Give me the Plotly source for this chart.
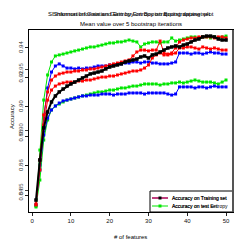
import plotly.graph_objects as go

features = list(range(1, 51))

blue_upper = [0.8336, 0.8607, 0.8925, 0.9129, 0.9237, 0.9278, 0.9292, 0.9278, 0.9264, 0.9264,
              0.9258, 0.9264, 0.9258, 0.9264, 0.9264, 0.9271, 0.9278, 0.9278, 0.9278, 0.9285,
              0.9285, 0.9292, 0.9292, 0.9298, 0.9298, 0.9305, 0.9305, 0.9298, 0.9305, 0.9305,
              0.9298, 0.9298, 0.9292, 0.9292, 0.9292, 0.9298, 0.9305, 0.9366, 0.9366, 0.9366,
              0.9359, 0.9366, 0.9366, 0.9359, 0.9366, 0.9373, 0.9366, 0.9366, 0.9359, 0.9359]
blue_lower = [0.8336, 0.8573, 0.8810, 0.8925, 0.8980, 0.9007, 0.9027, 0.9041, 0.9047, 0.9054,
              0.9061, 0.9068, 0.9075, 0.9075, 0.9081, 0.9081, 0.9081, 0.9088, 0.9088, 0.9088,
              0.9081, 0.9088, 0.9088, 0.9088, 0.9095, 0.9095, 0.9095, 0.9095, 0.9088, 0.9095,
              0.9095, 0.9095, 0.9095, 0.9095, 0.9088, 0.9081, 0.9088, 0.9136, 0.9136, 0.9136,
              0.9136, 0.9129, 0.9136, 0.9136, 0.9129, 0.9136, 0.9142, 0.9136, 0.9136, 0.9136]
green_upper = [0.8329, 0.8708, 0.9047, 0.9217, 0.9305, 0.9346, 0.9353, 0.9359, 0.9366, 0.9373,
               0.9380, 0.9386, 0.9393, 0.9400, 0.9407, 0.9407, 0.9414, 0.9420, 0.9427, 0.9434,
               0.9434, 0.9441, 0.9441, 0.9447, 0.9454, 0.9447, 0.9441, 0.9407, 0.9427, 0.9434,
               0.9441, 0.9441, 0.9434, 0.9441, 0.9441, 0.9468, 0.9447, 0.9454, 0.9461, 0.9468,
               0.9475, 0.9475, 0.9468, 0.9475, 0.9475, 0.9468, 0.9475, 0.9468, 0.9475, 0.9481]
green_lower = [0.8322, 0.8505, 0.8776, 0.8912, 0.8980, 0.9007, 0.9020, 0.9034, 0.9047, 0.9054,
               0.9061, 0.9068, 0.9075, 0.9081, 0.9088, 0.9095, 0.9102, 0.9102, 0.9108, 0.9115,
               0.9115, 0.9122, 0.9129, 0.9129, 0.9136, 0.9142, 0.9142, 0.9149, 0.9156, 0.9156,
               0.9156, 0.9156, 0.9149, 0.9156, 0.9156, 0.9163, 0.9163, 0.9169, 0.9163, 0.9169,
               0.9176, 0.9183, 0.9176, 0.9169, 0.9169, 0.9169, 0.9163, 0.9156, 0.9169, 0.9183]
red_upper = [0.8342, 0.8641, 0.8946, 0.9102, 0.9183, 0.9210, 0.9224, 0.9230, 0.9237, 0.9237,
             0.9244, 0.9244, 0.9251, 0.9251, 0.9258, 0.9258, 0.9264, 0.9271, 0.9278, 0.9285,
             0.9292, 0.9298, 0.9305, 0.9312, 0.9319, 0.9346, 0.9373, 0.9386, 0.9386, 0.9380,
             0.9386, 0.9386, 0.9447, 0.9366, 0.9359, 0.9366, 0.9400, 0.9441, 0.9454, 0.9461,
             0.9468, 0.9468, 0.9475, 0.9475, 0.9475, 0.9475, 0.9468, 0.9475, 0.9475, 0.9468]
red_lower = [0.8336, 0.8573, 0.8878, 0.9047, 0.9115, 0.9142, 0.9156, 0.9163, 0.9169, 0.9169,
             0.9169, 0.9176, 0.9176, 0.9183, 0.9183, 0.9190, 0.9197, 0.9203, 0.9203, 0.9210,
             0.9210, 0.9217, 0.9224, 0.9230, 0.9237, 0.9244, 0.9244, 0.9251, 0.9264, 0.9285,
             0.9332, 0.9353, 0.9366, 0.9353, 0.9353, 0.9359, 0.9366, 0.9400, 0.9400, 0.9407,
             0.9407, 0.9400, 0.9393, 0.9407, 0.9400, 0.9393, 0.9400, 0.9393, 0.9386, 0.9386]
black_mean = [0.8369, 0.8641, 0.8858, 0.8966, 0.9034, 0.9075, 0.9102, 0.9122, 0.9142, 0.9156,
              0.9169, 0.9183, 0.9197, 0.9210, 0.9224, 0.9230, 0.9237, 0.9244, 0.9258, 0.9271,
              0.9278, 0.9285, 0.9292, 0.9305, 0.9312, 0.9319, 0.9325, 0.9339, 0.9346, 0.9332,
              0.9353, 0.9359, 0.9373, 0.9386, 0.9400, 0.9407, 0.9414, 0.9407, 0.9420, 0.9427,
              0.9441, 0.9454, 0.9461, 0.9475, 0.9481, 0.9481, 0.9475, 0.9461, 0.9454, 0.9454]

x_ticks = [0, 10, 20, 30, 40, 50]
y_ticks_a = [0.84, 0.86, 0.88, 0.90, 0.92, 0.94]
y_ticks_b = [0.85, 0.90, 0.95]

title_lines_a = ["SI Information Gain and Entropy on Bootstrapping dataset plot",
                 "Shannon Information Gain by Entropy on Bootstrapping set"]
subtitle = "Mean value over 5 bootstrap iterations"
legend_labels_a = ["Accuracy on Training set", "Accuracy on Training set"]
legend_labels_b = ["Accuracy on test Entropy", "Accuracy on test set"]

FONT = "Liberation Sans, Arial, sans-serif"

fig = go.Figure()

series = [
    (green_lower, "#00e600", 1, 3),
    (blue_lower, "#0000ff", 1, 3),
    (blue_upper, "#0000ff", 1, 3),
    (green_upper, "#00e600", 1, 3),
    (red_lower, "#ff0000", 1, 3),
    (red_upper, "#ff0000", 1, 3),
    (black_mean, "#000000", 2, 3.5),
]
for vals, col, w, ms in series:
    fig.add_trace(go.Scatter(x=features, y=vals, mode="lines+markers",
                             line=dict(color=col, width=w),
                             marker=dict(symbol="square", size=ms, color=col),
                             showlegend=False, hoverinfo="skip"))

# second overlapping axis (only for its ticks)
fig.add_trace(go.Scatter(x=[None], y=[None], yaxis="y2", showlegend=False))

OFF = 8  # page body margin
W, H = 241, 241
L, T = 29 - OFF, 30 - OFF
R = W - (233 - OFF)
B = H - (212 - OFF)
pw, ph = W - L - R, H - T - B


def px(xp):  # page pixel -> paper
    return (xp - OFF - L) / pw


def py(yp):
    return (H - B - (yp - OFF)) / ph


fig.update_layout(
    width=W, height=H,
    margin=dict(l=L, r=R, t=T, b=B),
    paper_bgcolor="white", plot_bgcolor="white",
    font=dict(family=FONT, size=6, color="#222"),
    xaxis=dict(range=[-0.8, 51.8], tickvals=x_ticks, ticks="outside", ticklen=3,
               tickcolor="#222", showline=True, linecolor="black", linewidth=1,
               mirror=True, showgrid=False, zeroline=False, automargin=False,
               tickfont=dict(size=6, color="#111")),
    yaxis=dict(range=[0.8288, 0.9522], tickvals=y_ticks_a, tickformat=".2f",
               ticks="outside", ticklen=3, tickcolor="#222", showline=True,
               linecolor="black", linewidth=1, mirror=True, showgrid=False,
               zeroline=False, automargin=False, tickangle=-90,
               tickfont=dict(size=6, color="#333")),
    yaxis2=dict(range=[0.8317, 0.9833], tickvals=y_ticks_b, tickformat=".2f",
                overlaying="y", side="left", anchor="x", ticks="outside", ticklen=3,
                tickcolor="#444", showline=False, showgrid=False, zeroline=False,
                automargin=False, tickangle=-90, tickfont=dict(size=6, color="#555")),
)

ann = []
for t in title_lines_a:
    ann.append(dict(text=t, x=px(131), y=py(14), xref="paper", yref="paper",
                    xanchor="center", yanchor="middle", showarrow=False,
                    font=dict(size=6, color="black", family=FONT)))
ann.append(dict(text=subtitle, x=px(131), y=py(24), xref="paper", yref="paper",
                xanchor="center", yanchor="middle", showarrow=False,
                font=dict(size=6, color="black", family=FONT)))
ann.append(dict(text="Accuracy", x=px(12), y=py(117), xref="paper", yref="paper",
                textangle=-90, xanchor="center", yanchor="middle", showarrow=False,
                font=dict(size=6, color="black", family=FONT)))
ann.append(dict(text="# of features", x=px(130), y=py(237), xref="paper", yref="paper",
                xanchor="center", yanchor="middle", showarrow=False,
                font=dict(size=6, color="black", family=FONT)))

# manual legend
shapes = []
shapes.append(dict(type="rect", xref="paper", yref="paper", x0=px(150), x1=px(233),
                   y0=py(212), y1=py(191), line=dict(color="black", width=1),
                   fillcolor="white", layer="above"))
rows = [(198, ["#0000ff", "#ff0000"], "#000000", legend_labels_a),
        (206, ["#00e600"], "#00e600", legend_labels_b)]
for yrow, lcols, mcol, labels in rows:
    for lc in lcols:
        shapes.append(dict(type="line", xref="paper", yref="paper", x0=px(152), x1=px(168),
                           y0=py(yrow), y1=py(yrow), line=dict(color=lc, width=1), layer="above"))
    shapes.append(dict(type="rect", xref="paper", yref="paper", x0=px(158.5), x1=px(161.5),
                       y0=py(yrow + 1.5), y1=py(yrow - 1.5), line=dict(width=0),
                       fillcolor=mcol, layer="above"))
    for lab in labels:
        ann.append(dict(text=lab, x=px(170), y=py(yrow), xref="paper", yref="paper",
                        xanchor="left", yanchor="middle", showarrow=False,
                        font=dict(size=5, color="black", family=FONT)))
# darker right frame edge
shapes.append(dict(type="line", xref="paper", yref="paper", x0=1, x1=1, y0=0, y1=1,
                   line=dict(color="#555", width=2)))

fig.update_layout(annotations=ann, shapes=shapes)
fig.write_html("out.html")
